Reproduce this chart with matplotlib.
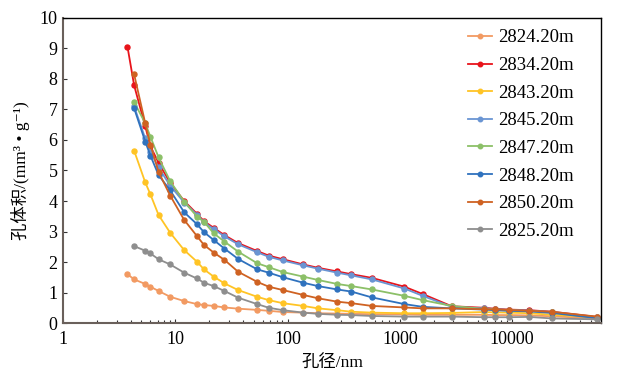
import numpy as np
import matplotlib
matplotlib.use("Agg")
import matplotlib.pyplot as plt
from matplotlib.ticker import FixedLocator, LogLocator, NullFormatter

nan = np.nan
diam = [3.75, 4.3, 5.4, 6.0, 7.1, 9.0, 12, 15.6, 18, 22, 27.4, 36.3, 53.6, 68, 91,
        138, 187, 277, 371, 563, 1100, 1600, 2900, 5600, 7000, 9300, 14300, 22600, 57000]

d2824 = [1.60, 1.43, 1.28, 1.19, 1.05, 0.86, 0.72, 0.62, 0.59, 0.56, 0.51, 0.47, 0.43, 0.40, 0.36,
         0.34, 0.32, 0.31, 0.30, 0.29, 0.28, 0.27, 0.27, 0.27, 0.26, 0.26, 0.25, 0.22, 0.15]
d2834 = [9.06, 7.79, 6.45, 5.80, 5.25, 4.60, 4.00, 3.58, 3.34, 3.12, 2.88, 2.62, 2.36, 2.21, 2.09,
         1.92, 1.81, 1.69, 1.60, 1.48, 1.19, 0.95, 0.55, 0.50, 0.47, 0.44, 0.42, 0.37, 0.20]
d2843 = [nan, 5.65, 4.61, 4.22, 3.54, 2.96, 2.39, 2.01, 1.76, 1.52, 1.30, 1.08, 0.86, 0.75, 0.65,
         0.56, 0.48, 0.42, 0.37, 0.34, 0.32, 0.32, 0.33, 0.36, 0.35, 0.34, 0.32, 0.27, 0.19]
d2845 = [nan, 7.10, 6.05, 5.60, 5.10, 4.50, 3.95, 3.55, 3.30, 3.08, 2.84, 2.58, 2.32, 2.17, 2.05,
         1.89, 1.78, 1.65, 1.56, 1.43, 1.13, 0.89, 0.53, 0.48, 0.46, 0.43, 0.41, 0.36, 0.19]
d2847 = [nan, 7.24, 6.55, 6.11, 5.43, 4.65, 3.98, 3.49, 3.32, 2.94, 2.67, 2.34, 1.96, 1.83, 1.67,
         1.52, 1.41, 1.28, 1.21, 1.10, 0.89, 0.75, 0.56, 0.46, 0.44, 0.41, 0.39, 0.35, 0.17]
d2848 = [nan, 7.04, 5.95, 5.49, 4.85, 4.35, 3.63, 3.24, 2.98, 2.72, 2.44, 2.10, 1.76, 1.65, 1.50,
         1.32, 1.21, 1.10, 1.03, 0.84, 0.62, 0.53, 0.48, 0.44, 0.42, 0.40, 0.38, 0.33, 0.16]
d2850 = [nan, 8.15, 6.55, 5.85, 4.95, 4.18, 3.38, 2.85, 2.56, 2.31, 2.07, 1.68, 1.35, 1.19, 1.08,
         0.92, 0.81, 0.70, 0.65, 0.56, 0.51, 0.48, 0.48, 0.45, 0.45, 0.43, 0.40, 0.37, 0.21]
d2825 = [nan, 2.52, 2.37, 2.28, 2.09, 1.92, 1.65, 1.46, 1.32, 1.21, 1.05, 0.83, 0.62, 0.50, 0.42,
         0.34, 0.30, 0.27, 0.26, 0.23, 0.21, 0.21, 0.21, 0.19, 0.19, 0.19, 0.20, 0.15, 0.12]

labels = ["2824.20m", "2834.20m", "2843.20m", "2845.20m",
          "2847.20m", "2848.20m", "2850.20m", "2825.20m"]
series = [d2824, d2834, d2843, d2845, d2847, d2848, d2850, d2825]
colors = ["#F29A62", "#E8141B", "#FFC425", "#6A95D3",
          "#8CC068", "#2F72BE", "#CF6222", "#8E8E8E"]

xticks = [1, 10, 100, 1000, 10000]
xticklabels = ["1", "10", "100", "1000", "10000"]
yticks = list(range(0, 11))

serif = ["Liberation Serif", "DejaVu Serif", "Noto Sans CJK SC"]
plt.rcParams['font.family'] = serif

fig = plt.figure(figsize=(6.29, 3.81), dpi=100)
ax = fig.add_axes([0.1002, 0.1522, 0.8553, 0.8006])

for ys, lab, c in zip(series, labels, colors):
    arr = np.array(ys, dtype=float)
    m = ~np.isnan(arr)
    ax.plot(np.array(diam)[m], arr[m], '-o', color=c, lw=1.3, ms=3.6,
            label=lab)

ax.set_xscale('log')
ax.set_xlim(1, 62000)
ax.set_ylim(0, 10)
ax.xaxis.set_major_locator(FixedLocator(xticks))
ax.set_xticklabels(xticklabels)
ax.xaxis.set_minor_locator(LogLocator(base=10, subs=np.arange(2, 10)))
ax.xaxis.set_minor_formatter(NullFormatter())
ax.set_yticks(yticks)

ax.tick_params(axis='both', which='major', direction='in', length=3,
               labelsize=13, colors='#333333', labelcolor='black', width=0.8)
ax.tick_params(axis='x', which='minor', direction='in', length=2, width=0.8,
               colors='#333333')
ax.tick_params(axis='x', pad=6)
ax.tick_params(axis='y', pad=4)

for s in ['left', 'bottom']:
    ax.spines[s].set_color('#6a605b')
    ax.spines[s].set_linewidth(1.5)
for s in ['top', 'right']:
    ax.spines[s].set_color('black')
    ax.spines[s].set_linewidth(1.0)

ax.set_xlabel("孔径/nm", fontsize=12.5, family=serif, labelpad=5)
ax.set_ylabel("孔体积/(mm³ • g⁻¹)", fontsize=12.5, family=serif, labelpad=7)

leg = ax.legend(loc='upper left', bbox_to_anchor=(0.722, 1.018), frameon=False,
                fontsize=13.5, handlelength=1.25, handletextpad=0.35,
                labelspacing=0.56, markerscale=0.9)

fig.savefig("out.png", dpi=100)
